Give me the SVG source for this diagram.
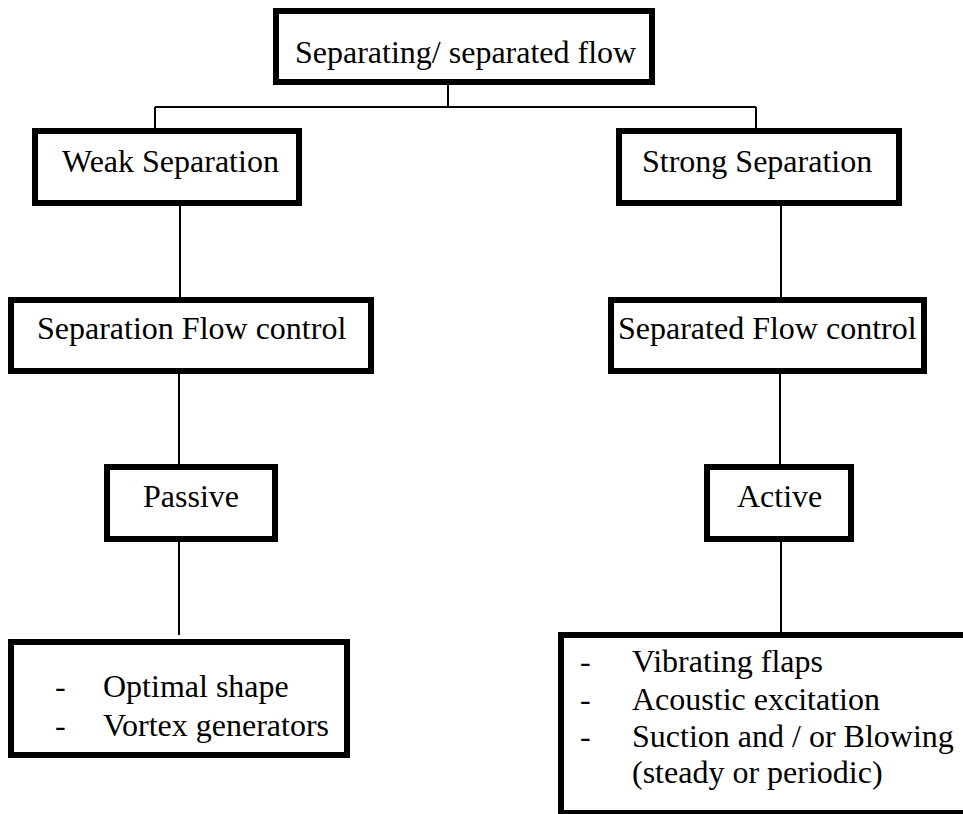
<svg xmlns="http://www.w3.org/2000/svg" width="963" height="814" viewBox="0 0 963 814">
<style>
.box{fill:#fff;stroke:#000;stroke-width:6}
.t{font-family:"Times New Roman","Liberation Serif",Tinos,"DejaVu Serif",serif;font-size:32px;fill:#000}
.c{fill:none;stroke:#000;stroke-width:2}
</style>
<rect width="963" height="814" fill="#fff"/>
<g id="connectors">
<path class="c" d="M448 85V107M155 107H756M155 107V128M756 107V128"/>
<path class="c" d="M180 206V297M179 374V464M179 542V635"/>
<path class="c" d="M781 206V297M780 374V464M781 542V632"/>
</g>
<g id="root">
<rect class="box" x="276" y="11" width="376" height="71"/>
<text class="t" x="295" y="63">Separating/ separated flow</text>
</g>
<g id="weak">
<rect class="box" x="35" y="131" width="264" height="72"/>
<text class="t" x="62" y="172">Weak Separation</text>
</g>
<g id="strong">
<rect class="box" x="619" y="131" width="280" height="72"/>
<text class="t" x="642" y="172">Strong Separation</text>
</g>
<g id="sepflow">
<rect class="box" x="11" y="300" width="360" height="71"/>
<text class="t" x="37" y="339">Separation Flow control</text>
</g>
<g id="sepdflow">
<rect class="box" x="611" y="300" width="313" height="71"/>
<text class="t" x="618" y="339">Separated Flow control</text>
</g>
<g id="passive">
<rect class="box" x="107" y="467" width="168" height="72"/>
<text class="t" x="143" y="507">Passive</text>
</g>
<g id="active">
<rect class="box" x="707" y="467" width="144" height="72"/>
<text class="t" x="737" y="507">Active</text>
</g>
<g id="passive-list">
<rect class="box" x="11" y="642" width="336" height="113"/>
<text class="t" x="55" y="697">-</text>
<text class="t" x="103" y="697">Optimal shape</text>
<text class="t" x="55" y="736">-</text>
<text class="t" x="103" y="736">Vortex generators</text>
</g>
<g id="active-list">
<rect class="box" x="561" y="635" width="420" height="178"/>
<text class="t" x="580" y="672">-</text>
<text class="t" x="632" y="672">Vibrating flaps</text>
<text class="t" x="580" y="710">-</text>
<text class="t" x="632" y="710">Acoustic excitation</text>
<text class="t" x="580" y="747">-</text>
<text class="t" x="632" y="747">Suction and / or Blowing</text>
<text class="t" x="632" y="783">(steady or periodic)</text>
</g>
</svg>
